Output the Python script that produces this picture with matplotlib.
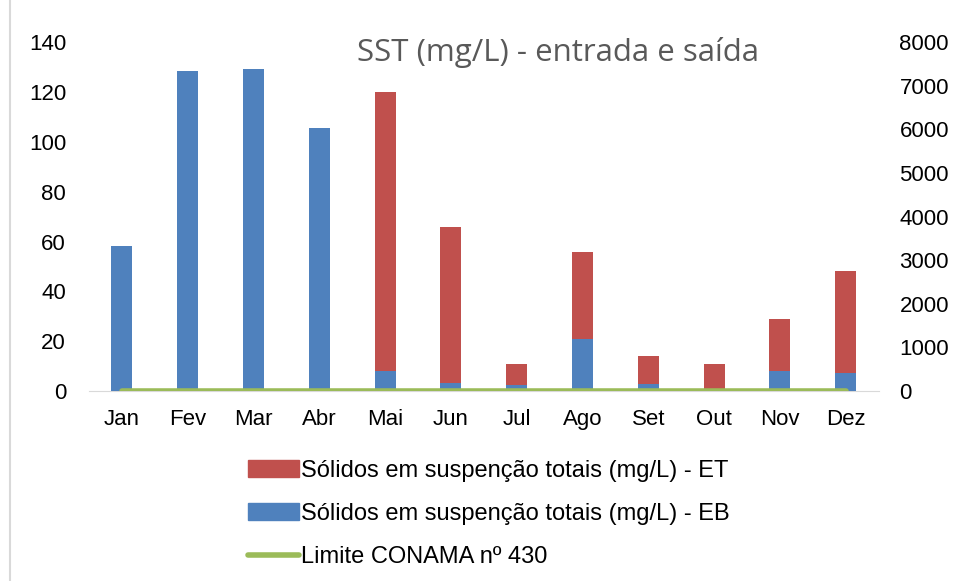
import matplotlib.pyplot as plt
from matplotlib.patches import Patch
from matplotlib.lines import Line2D

plt.rcParams['font.family'] = ['Liberation Sans', 'DejaVu Sans']

months = ['Jan', 'Fev', 'Mar', 'Abr', 'Mai', 'Jun', 'Jul', 'Ago', 'Set', 'Out', 'Nov', 'Dez']
# ET (saída) on left axis, EB (entrada) on right axis
sst_et = [35, 72, 70, 28, 120, 66, 11, 56, 14, 11, 29, 48]
sst_eb = [3320, 7340, 7380, 6030, 460, 185, 140, 1190, 160, 20, 460, 410]
conama = [0] * 12

red = '#c0504d'
blue = '#4f81bd'
green = '#9bbb59'

fig = plt.figure(figsize=(9.54, 5.81), dpi=100)
ax = fig.add_axes([0.0933, 0.327, 0.8277, 0.6003])
ax2 = ax.twinx()

x = range(len(months))
w = 0.32
ax.bar(x, sst_et, width=w, color=red, zorder=2)
ax2.bar(x, sst_eb, width=w, color=blue, zorder=2)
ax2.plot(x, conama, color=green, lw=4, solid_capstyle='round', zorder=3)

ax.set_xlim(-0.5, 11.5)
ax.set_ylim(0, 140)
ax2.set_ylim(0, 8000)
ax.set_yticks(range(0, 141, 20))
ax2.set_yticks(range(0, 8001, 1000))
ax.set_xticks(list(x))
ax.set_xticklabels(months)

for a in (ax, ax2):
    for s in a.spines.values():
        s.set_visible(False)
    a.tick_params(length=0, labelsize=16, colors='black')
ax.spines['bottom'].set_visible(True)
ax.spines['bottom'].set_color('#d9d9d9')
ax.tick_params(axis='y', pad=16.5)
ax2.tick_params(axis='y', pad=15)
ax.tick_params(axis='x', pad=13)

ax.text(0.594, 0.9456, 'SST (mg/L) - entrada e saída', transform=ax.transAxes,
        ha='center', va='baseline', fontsize=22.5, color='#595959', family='Open Sans')

handles = [Patch(color=red), Patch(color=blue), Line2D([], [], color=green, lw=4, solid_capstyle='round')]
labels = ['Sólidos em suspenção totais (mg/L) - ET',
          'Sólidos em suspenção totais (mg/L) - EB',
          'Limite CONAMA nº 430']
fig.legend(handles, labels, loc='center left', bbox_to_anchor=(0.26, 0.1153),
           frameon=False, fontsize=17, handlelength=2.14, handletextpad=0.1,
           labelspacing=0.9, borderaxespad=0, borderpad=0)

fig.add_artist(Line2D([0.011, 0.011], [0, 1], color='#d9d9d9', lw=1.5, transform=fig.transFigure))

fig.savefig('out.png', dpi=100)
